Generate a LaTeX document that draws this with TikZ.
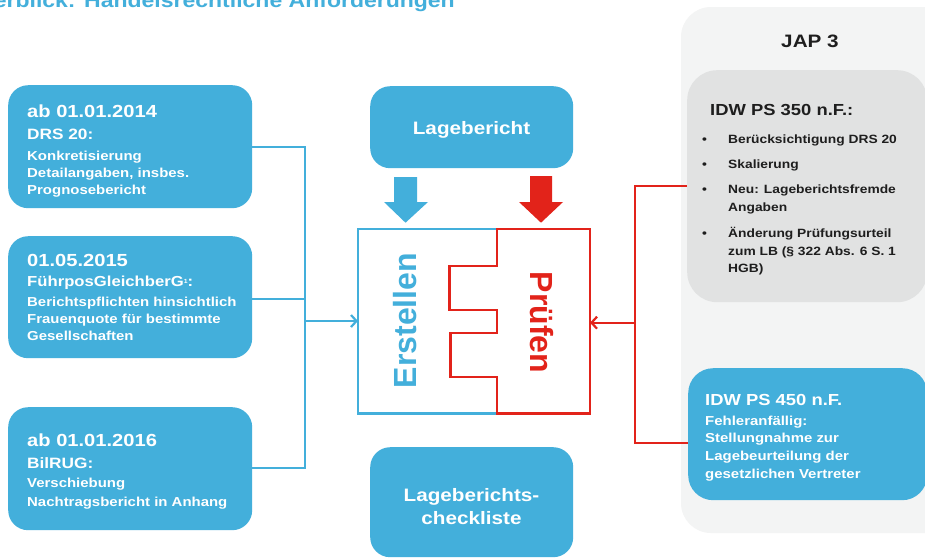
\documentclass[tikz,border=0pt]{standalone}
\usepackage{fontspec}
\setmainfont{Liberation Sans}[FakeStretch=1.15]
\newfontfamily\plainfont{Liberation Sans}
\usetikzlibrary{arrows.meta}
\definecolor{cblue}{HTML}{43AFDB}
\definecolor{cred}{HTML}{E2231A}
\definecolor{panel}{HTML}{F3F4F4}
\definecolor{gbox}{HTML}{E1E2E2}
\definecolor{dtext}{HTML}{1E1E1E}
\tikzset{
  bbox/.style={fill=cblue, draw=none, rounded corners=20pt, inner sep=0pt, anchor=north west},
  tl/.style={anchor=base west, inner sep=0pt, text=white},
  dl/.style={anchor=base west, inner sep=0pt, text=dtext},
  fbig/.style={font=\fontsize{17.5}{20}\selectfont\bfseries},
  fmid/.style={font=\fontsize{15}{18}\selectfont\bfseries},
  fsmall/.style={font=\fontsize{13}{16}\selectfont\bfseries},
  fbul/.style={font=\fontsize{12}{14}\selectfont\bfseries},
  fhead/.style={font=\fontsize{16}{18}\selectfont\bfseries},
  bline/.style={draw=cblue, line width=2.2pt},
  rline/.style={draw=cred, line width=2.2pt},
  tip/.style={-{Straight Barb[length=5.5pt,width=12pt,line width=2.2pt]}},
}
\begin{document}
\begin{tikzpicture}[x=1pt,y=-1pt]
\useasboundingbox (0,0) rectangle (925,558);
\clip (0,0) rectangle (925,558);
\fill[white] (0,0) rectangle (925,558);

% title (cut at top and left, as in the reference)
\node[anchor=base east, inner sep=0pt, text=cblue, font=\fontsize{20}{22}\selectfont\bfseries] (title) at (455,7.3) {Überblick: Handelsrechtliche Anforderungen};

% right panel
\fill[panel, rounded corners=30pt] (681,7) rectangle (975,533);
\node[anchor=base, inner sep=0pt, text=dtext, font=\fontsize{18}{20}\selectfont\bfseries] (jap) at (810,47) {JAP 3};

% grey IDW PS 350 box
\node[fill=gbox, draw=none, rounded corners=30pt, inner sep=0pt, anchor=north west, minimum width=240pt, minimum height=232pt] (g350) at (687,70) {};
\node[dl,fhead] (g1) at (710,115) {IDW PS 350 n.F.:};
\node[dl,fbul] (gb1) at (702,143) {•};
\node[dl,fbul] (g2) at (728,143) {Berücksichtigung DRS 20};
\node[dl,fbul] (gb2) at (702,168) {•};
\node[dl,fbul] (g3) at (728,168) {Skalierung};
\node[dl,fbul] (gb3) at (702,193) {•};
\node[dl,fbul] (g4) at (728,193) {Neu: Lageberichtsfremde};
\node[dl,fbul] (g5) at (728,211) {Angaben};
\node[dl,fbul] (gb4) at (702,237) {•};
\node[dl,fbul] (g6) at (728,237) {Änderung Prüfungsurteil};
\node[dl,fbul] (g7) at (728,255) {zum LB (§ 322 Abs. 6 S. 1};
\node[dl,fbul] (g8) at (728,272) {HGB)};

% blue IDW PS 450 box
\node[bbox, rounded corners=25pt, minimum width=239pt, minimum height=132pt] (g450) at (688,368) {};
\node[tl,fhead] (h1) at (705,405) {IDW PS 450 n.F.};
\node[tl,fsmall] (h2) at (705,425) {Fehleranfällig:};
\node[tl,fsmall] (h3) at (705,442.7) {Stellungnahme zur};
\node[tl,fsmall] (h4) at (705,460.7) {Lagebeurteilung der};
\node[tl,fsmall] (h5) at (705,478.3) {gesetzlichen Vertreter};

% left boxes
\node[bbox, minimum width=244pt, minimum height=123pt] (b1) at (8,85) {};
\node[tl,fbig] (b1a) at (27,117.3) {ab 01.01.2014};
\node[tl,fmid] (b1b) at (27,139.3) {DRS 20:};
\node[tl,fsmall] (b1c) at (27,160) {Konkretisierung};
\node[tl,fsmall] (b1d) at (27,177.3) {Detailangaben, insbes.};
\node[tl,fsmall] (b1e) at (27,194.3) {Prognosebericht};

\node[bbox, minimum width=244pt, minimum height=122pt] (b2) at (8,236) {};
\node[tl,fbig] (b2a) at (27,266.7) {01.05.2015};
\node[tl,fmid,font=\fontsize{14.5}{17}\selectfont\bfseries] (b2b) at (27,286) {FührposGleichberG\raisebox{2.5pt}{\fontsize{6}{6}\selectfont 1}:};
\node[tl,fsmall] (b2c) at (27,306) {Berichtspflichten hinsichtlich};
\node[tl,fsmall] (b2d) at (27,323.3) {Frauenquote für bestimmte};
\node[tl,fsmall] (b2e) at (27,340.7) {Gesellschaften};

\node[bbox, minimum width=244pt, minimum height=123pt] (b3) at (8,407) {};
\node[tl,fbig] (b3a) at (27,446.7) {ab 01.01.2016};
\node[tl,fmid] (b3b) at (27,468.3) {BilRUG:};
\node[tl,fsmall] (b3c) at (27,487.3) {Verschiebung};
\node[tl,fsmall] (b3d) at (27,506) {Nachtragsbericht in Anhang};

% centre boxes
\node[bbox, minimum width=203pt, minimum height=82pt] (lb) at (370,86) {};
\node[anchor=base, inner sep=0pt, text=white, font=\fontsize{18}{20}\selectfont\bfseries] (lbt) at (471.5,134.3) {Lagebericht};
\node[bbox, minimum width=203pt, minimum height=110pt] (cl) at (370,447) {};
\node[anchor=base, inner sep=0pt, text=white, font=\fontsize{18}{20}\selectfont\bfseries] (clt1) at (471.5,501) {Lageberichts-};
\node[anchor=base, inner sep=0pt, text=white, font=\fontsize{18}{20}\selectfont\bfseries] (clt2) at (471.5,524) {checkliste};

% block arrows
\fill[cblue] (394,177) -- (417,177) -- (417,202) -- (428,202) -- (405.5,222.7) -- (384,202) -- (394,202) -- cycle;
\fill[cred] (530,176) -- (552,176) -- (552,202) -- (563,202) -- (541,222.7) -- (519,202) -- (530,202) -- cycle;

% Erstellen / Pruefen block
\coordinate (eL) at (358,321);
\coordinate (pR) at (590,322.7);
\draw[bline, line join=miter] (497.3,229.3) -- (358,229.3) -- (358,413.5) -- (497.3,413.5);
\draw[rline, line join=miter] (497.3,229.3) -- (590,229.3) -- (590,413.5) -- (497.3,413.5)
  -- (497.3,377.3) -- (450.5,377.3) -- (450.5,332.7) -- (497.3,332.7) -- (497.3,310)
  -- (449.5,310) -- (449.5,266) -- (497.3,266) -- cycle;
\node[rotate=90, inner sep=0pt, text=cblue, font=\plainfont\fontsize{32}{34}\selectfont\bfseries] (erst) at (405,320.5) {Erstellen};
\node[rotate=-90, inner sep=0pt, text=cred, font=\plainfont\fontsize{32}{34}\selectfont\bfseries] (pruef) at (541.5,322.5) {Prüfen};

% left connectors
\coordinate (j1) at (305.3,147.3);
\coordinate (j2) at (305.3,299);
\coordinate (j3) at (305.3,468.3);
\coordinate (jm) at (305.3,321);
\draw[bline] (b1.east |- j1) -- (j1) -- (j3) -- (b3.east |- j3);
\draw[bline] (b2.east |- j2) -- (j2);
\draw[bline, tip] (jm) -- (eL);

% right connectors
\coordinate (r1) at (635,186);
\coordinate (r2) at (635,443);
\coordinate (rm) at (635,322.7);
\draw[rline] (g350.west |- r1) -- (r1) -- (r2) -- (g450.west |- r2);
\draw[rline, tip] (rm) -- (pR);
\end{tikzpicture}
\end{document}
